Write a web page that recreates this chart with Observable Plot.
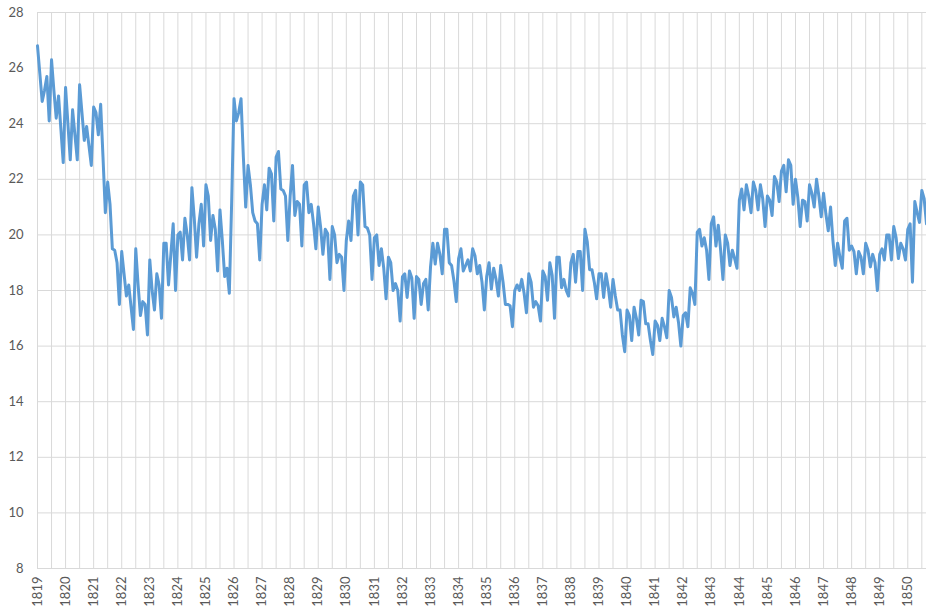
<!DOCTYPE html>
<html>
<head>
<meta charset="utf-8">
<script src="https://cdn.jsdelivr.net/npm/d3@7"></script>
<script src="https://cdn.jsdelivr.net/npm/@observablehq/plot@0.6"></script>
<style>
  html, body { margin: 0; padding: 0; background: #fff; }
  #chart svg { display: block; }
</style>
</head>
<body>
<div id="chart"></div>
<script>
// Year labels on the category axis (one per 12 monthly points, starting Jan 1819)
const years = [1819,1820,1821,1822,1823,1824,1825,1826,1827,1828,1829,1830,1831,1832,1833,1834,
               1835,1836,1837,1838,1839,1840,1841,1842,1843,1844,1845,1846,1847,1848,1849,1850];

// Y axis tick values
const yTicks = [8,10,12,14,16,18,20,22,24,26,28];

// Monthly values (one row per year)
const values = [
  26.8,25.8,24.8,25.2,25.7,24.1,26.3,25.2,24.2,25.0,23.8,22.6,   // 1819
  25.3,24.0,22.7,24.5,23.6,22.7,25.4,24.4,23.4,23.9,23.2,22.5,   // 1820
  24.6,24.4,23.6,24.7,22.8,20.8,21.9,21.1,19.5,19.45,19.0,17.5,  // 1821
  19.4,18.6,17.8,18.2,17.4,16.6,19.5,18.2,17.1,17.6,17.5,16.4,   // 1822
  19.1,18.0,17.3,18.6,18.2,17.0,19.7,19.7,18.2,19.3,20.4,18.0,   // 1823
  20.0,20.1,19.1,20.6,20.0,19.1,21.7,20.6,19.2,20.4,21.1,19.6,   // 1824
  21.8,21.4,19.8,20.7,20.2,18.7,20.9,19.8,18.5,18.8,17.9,21.2,   // 1825
  24.9,24.1,24.4,24.9,22.8,21.0,22.5,21.8,20.8,20.5,20.4,19.1,   // 1826
  21.1,21.8,20.9,22.4,22.2,20.5,22.8,23.0,21.65,21.6,21.4,19.8,  // 1827
  21.4,22.5,20.7,21.2,21.1,19.6,21.8,21.9,20.8,21.1,20.4,19.5,   // 1828
  21.0,20.3,19.3,20.2,20.05,18.4,20.3,20.0,19.0,19.3,19.2,18.0,  // 1829
  19.8,20.5,19.8,21.4,21.6,20.0,21.9,21.8,20.3,20.25,20.0,18.4,  // 1830
  19.9,20.0,18.9,19.5,18.8,17.7,19.2,19.0,18.0,18.25,18.0,16.9,  // 1831
  18.5,18.6,17.75,18.7,18.45,17.0,18.5,18.4,17.5,18.25,18.4,17.3,// 1832
  18.85,19.7,18.95,19.7,19.3,18.6,20.2,20.2,19.0,18.9,18.35,17.6,// 1833
  19.15,19.5,18.7,18.9,19.1,18.7,19.5,19.25,18.6,18.9,18.3,17.3, // 1834
  18.5,19.0,18.05,18.8,18.4,17.8,18.9,18.3,17.5,17.5,17.45,16.7, // 1835
  18.0,18.2,18.0,18.4,17.9,17.2,18.6,18.3,17.4,17.6,17.45,16.9,  // 1836
  18.7,18.5,17.65,19.0,18.55,17.0,19.2,19.2,18.1,18.4,18.0,17.8, // 1837
  19.0,19.3,18.3,19.4,19.4,18.0,20.2,19.75,18.75,18.75,18.3,17.7,// 1838
  18.6,18.6,17.75,18.6,18.1,17.4,18.4,17.8,17.3,17.3,16.4,15.8,  // 1839
  17.3,17.1,16.2,17.4,17.0,16.4,17.65,17.6,16.8,16.8,16.2,15.7,  // 1840
  16.9,16.75,16.2,17.0,16.7,16.3,18.0,17.75,17.05,17.4,16.85,16.0,// 1841
  17.1,17.2,16.7,18.1,17.9,17.5,20.1,20.2,19.6,19.9,19.45,18.4,  // 1842
  20.4,20.65,19.6,20.35,19.45,18.4,20.0,19.7,18.9,19.45,19.15,18.8,// 1843
  21.25,21.65,20.9,21.8,21.4,20.8,21.9,21.6,20.9,21.8,21.3,20.3, // 1844
  21.4,21.25,20.7,22.1,21.9,21.2,22.3,22.5,21.55,22.7,22.5,21.1, // 1845
  22.0,21.35,20.3,21.25,21.2,20.5,21.8,21.5,21.0,22.0,21.4,20.65,// 1846
  21.5,20.75,20.15,21.0,19.8,18.9,19.7,19.2,18.8,20.5,20.6,19.45,// 1847
  19.6,19.4,18.6,19.4,19.2,18.6,19.7,19.45,18.85,19.3,19.0,18.0, // 1848
  19.3,19.5,19.1,20.0,20.0,19.1,20.3,19.9,19.15,19.7,19.5,19.1,  // 1849
  20.2,20.4,18.3,21.2,20.8,20.45,21.6,21.3,20.4                  // 1850
];

const data = values.map((v, i) => ({m: i, v}));
const gridMonths = d3.range(0, values.length, 6);
const yearMonths = years.map((y, i) => i * 12);

const chart = Plot.plot({
  width: 926,
  height: 614,
  marginLeft: 37,
  marginRight: 0,
  marginTop: 12,
  marginBottom: 46,
  style: {fontFamily: "Lato, 'Liberation Sans', sans-serif", background: "#fff"},
  x: {domain: [0, values.length - 1], axis: null},
  y: {domain: [8, 28], axis: null},
  marks: [
    Plot.ruleX(gridMonths, {x: d => d, stroke: "#d9d9d9", strokeWidth: 1}),
    Plot.ruleY(yTicks, {y: d => d, stroke: "#d9d9d9", strokeWidth: 1}),
    Plot.line(data, {x: "m", y: "v", stroke: "#5b9bd5", strokeWidth: 3, strokeLinejoin: "round", strokeLinecap: "round"}),
    Plot.axisY({ticks: yTicks, tickSize: 0, tickPadding: 14, fontSize: 13, color: "#595959", label: null}),
    Plot.axisX({ticks: yearMonths, tickFormat: d => String(years[d / 12]), tickRotate: -90, tickSize: 0, tickPadding: 8, fontSize: 13, color: "#595959", label: null})
  ]
});
document.getElementById("chart").appendChild(chart);
</script>
</body>
</html>
